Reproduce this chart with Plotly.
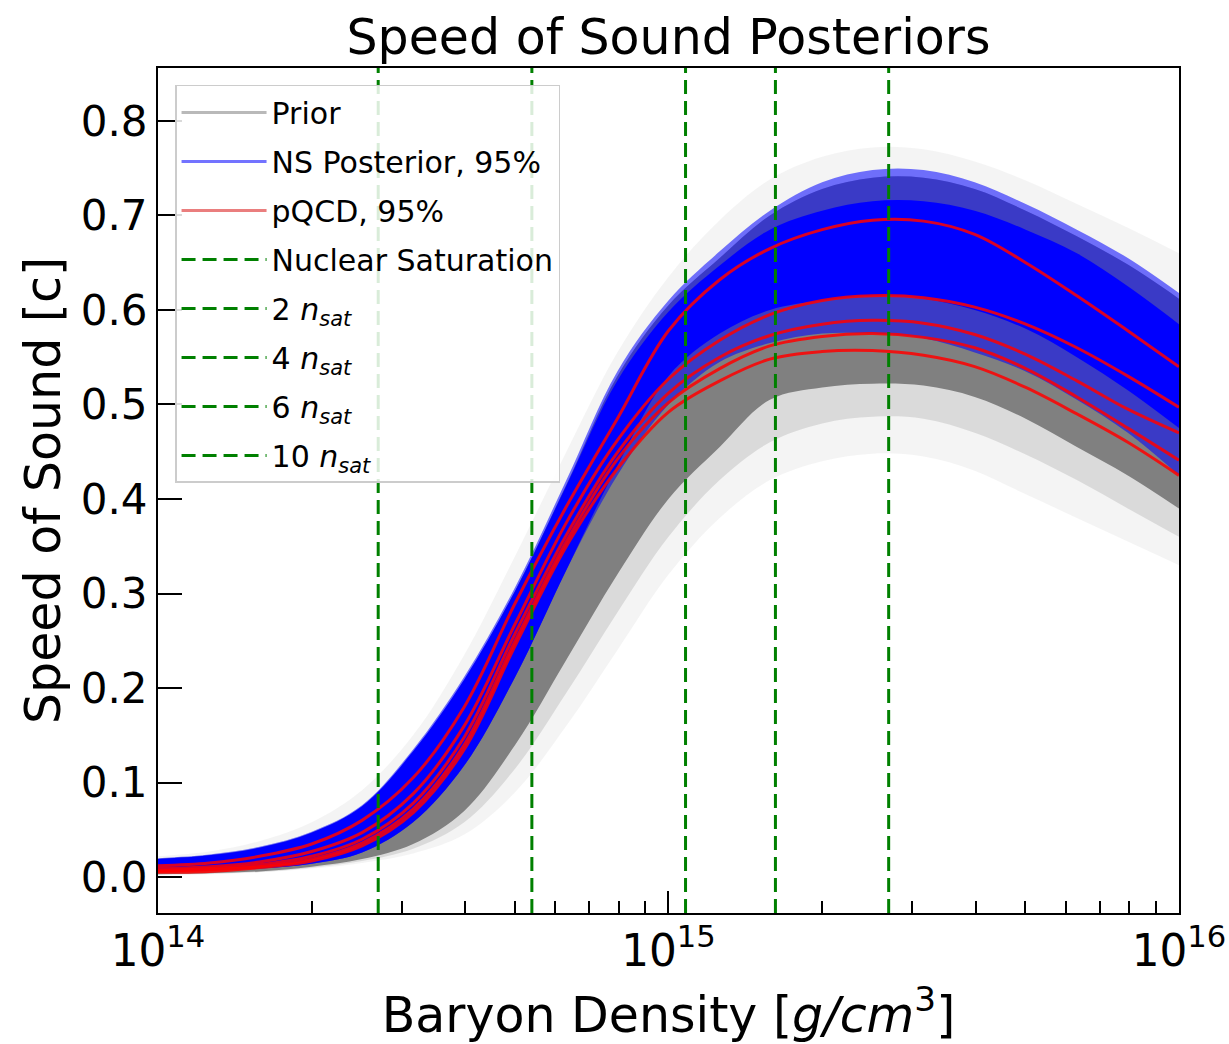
import plotly.graph_objects as go

# Baryon density sample points [g/cm^3]
density = [1.00e14, 1.26e14, 1.58e14, 2.00e14, 2.51e14, 3.16e14, 3.98e14, 5.01e14,
           6.31e14, 7.94e14, 1.00e15, 1.26e15, 1.58e15, 2.00e15, 2.51e15, 3.16e15,
           3.98e15, 5.01e15, 6.31e15, 7.94e15, 1.00e16]

# Prior (faint outer envelope of individual draws)
prior_outer_lo = [0.002, 0.003, 0.005, 0.009, 0.015, 0.025, 0.045, 0.090, 0.160, 0.240, 0.320,
                  0.380, 0.420, 0.440, 0.448, 0.445, 0.430, 0.405, 0.380, 0.355, 0.330]
prior_outer_hi = [0.022, 0.027, 0.038, 0.058, 0.092, 0.150, 0.235, 0.340, 0.450, 0.555, 0.635,
                  0.695, 0.738, 0.762, 0.772, 0.770, 0.757, 0.737, 0.712, 0.687, 0.660]
# Prior (medium density region)
prior_mid_lo = [0.003, 0.0035, 0.0055, 0.010, 0.017, 0.030, 0.058, 0.115, 0.195, 0.280, 0.360,
                0.420, 0.460, 0.480, 0.487, 0.485, 0.470, 0.447, 0.420, 0.390, 0.360]
# Prior (dense core)
prior_core_lo = [0.003, 0.004, 0.006, 0.011, 0.019, 0.035, 0.070, 0.140, 0.230, 0.320, 0.400,
                 0.455, 0.505, 0.518, 0.522, 0.520, 0.508, 0.485, 0.455, 0.425, 0.390]
prior_core_hi = [0.019, 0.023, 0.031, 0.047, 0.074, 0.130, 0.208, 0.303, 0.415, 0.530, 0.605,
                 0.655, 0.700, 0.728, 0.740, 0.740, 0.728, 0.705, 0.678, 0.648, 0.612]

# NS posterior 95% band
ns_lo = [0.006, 0.007, 0.009, 0.014, 0.026, 0.058, 0.118, 0.212, 0.325, 0.425, 0.500,
         0.545, 0.565, 0.575, 0.575, 0.570, 0.555, 0.535, 0.505, 0.470, 0.425]
ns_hi = [0.020, 0.024, 0.032, 0.048, 0.076, 0.135, 0.212, 0.307, 0.420, 0.535, 0.610,
         0.662, 0.705, 0.735, 0.748, 0.748, 0.735, 0.712, 0.685, 0.655, 0.618]
ns_core_lo = [0.006, 0.007, 0.009, 0.014, 0.026, 0.058, 0.118, 0.212, 0.325, 0.435, 0.530,
              0.575, 0.600, 0.610, 0.615, 0.612, 0.600, 0.580, 0.550, 0.515, 0.475]
ns_core_hi = [0.019, 0.023, 0.031, 0.047, 0.075, 0.133, 0.209, 0.303, 0.414, 0.525, 0.598,
              0.647, 0.685, 0.705, 0.715, 0.715, 0.705, 0.685, 0.660, 0.625, 0.585]

# pQCD-constrained 95% draws
pqcd_1 = [0.012, 0.015, 0.022, 0.035, 0.060, 0.105, 0.180, 0.290, 0.392, 0.485, 0.578,
          0.632, 0.665, 0.685, 0.695, 0.694, 0.680, 0.650, 0.615, 0.578, 0.540]
pqcd_2 = [0.009, 0.011, 0.016, 0.027, 0.047, 0.088, 0.160, 0.268, 0.375, 0.462, 0.527,
          0.568, 0.595, 0.610, 0.615, 0.613, 0.603, 0.585, 0.560, 0.530, 0.497]
pqcd_3 = [0.007, 0.009, 0.013, 0.022, 0.040, 0.078, 0.148, 0.258, 0.362, 0.449, 0.512,
          0.550, 0.573, 0.585, 0.589, 0.586, 0.574, 0.553, 0.525, 0.495, 0.470]
pqcd_4 = [0.006, 0.008, 0.011, 0.019, 0.036, 0.072, 0.140, 0.250, 0.355, 0.442, 0.502,
          0.538, 0.562, 0.572, 0.575, 0.571, 0.560, 0.538, 0.508, 0.475, 0.441]
pqcd_5 = [0.005, 0.006, 0.010, 0.017, 0.033, 0.068, 0.135, 0.245, 0.350, 0.432, 0.492,
          0.525, 0.548, 0.556, 0.557, 0.552, 0.540, 0.518, 0.490, 0.460, 0.425]

# Saturation density markers
n_sat = 2.7e14
nsat_multiples = [1, 2, 4, 6, 10]
nsat_labels = ["Nuclear Saturation", "2 <i>n<sub>sat</sub></i>", "4 <i>n<sub>sat</sub></i>",
               "6 <i>n<sub>sat</sub></i>", "10 <i>n<sub>sat</sub></i>"]

Y_RANGE = [-0.038, 0.856]

fig = go.Figure()


def band(lo, hi, color):
    fig.add_trace(go.Scatter(x=density, y=lo, mode="lines",
                             line=dict(width=0, shape="spline"),
                             showlegend=False, hoverinfo="skip"))
    fig.add_trace(go.Scatter(x=density, y=hi, mode="lines",
                             line=dict(width=0, shape="spline"),
                             fill="tonexty", fillcolor=color,
                             showlegend=False, hoverinfo="skip"))


band(prior_outer_lo, prior_outer_hi, "rgba(150,150,150,0.10)")
band(prior_mid_lo, prior_core_hi, "rgba(128,128,128,0.22)")
band(prior_core_lo, prior_core_hi, "rgb(128,128,128)")
band(ns_lo, ns_hi, "rgba(0,0,255,0.55)")
band(ns_core_lo, ns_core_hi, "rgb(0,0,255)")

for ys in [pqcd_1, pqcd_2, pqcd_3, pqcd_4, pqcd_5]:
    fig.add_trace(go.Scatter(x=density, y=ys, mode="lines",
                             line=dict(color="rgba(255,0,0,0.85)", width=3, shape="spline"),
                             showlegend=False, hoverinfo="skip"))

# Legend proxies
fig.add_trace(go.Scatter(x=[None], y=[None], mode="lines", name="Prior", legendgroup="a",
                         line=dict(color="rgba(128,128,128,0.55)", width=3)))
fig.add_trace(go.Scatter(x=[None], y=[None], mode="lines", name="NS Posterior, 95%", legendgroup="b",
                         line=dict(color="rgba(0,0,255,0.55)", width=3)))
fig.add_trace(go.Scatter(x=[None], y=[None], mode="lines", name="pQCD, 95%", legendgroup="c",
                         line=dict(color="rgba(220,40,40,0.6)", width=3)))

for k, lab in zip(nsat_multiples, nsat_labels):
    fig.add_trace(go.Scatter(x=[k * n_sat, k * n_sat], y=Y_RANGE, mode="lines", name=lab,
                             legendgroup="g" + str(k),
                             line=dict(color="green", width=3, dash="14px,7px"),
                             hoverinfo="skip"))

fig.update_layout(
    width=1229, height=1044,
    margin=dict(l=158, r=50, t=68, b=131),
    paper_bgcolor="white", plot_bgcolor="white",
    font=dict(family="DejaVu Sans", color="black"),
    title=dict(text="Speed of Sound Posteriors", x=0.5, xref="paper", y=0.965, yanchor="middle",
               font=dict(size=49, family="DejaVu Sans")),
    legend=dict(x=0.0167, y=0.98, xanchor="left", yanchor="top",
                bgcolor="rgba(255,255,255,0.85)", bordercolor="#cccccc", borderwidth=1.5,
                font=dict(size=30, family="DejaVu Sans"), itemwidth=85,
                traceorder="grouped", tracegroupgap=7),
    xaxis=dict(type="log", range=[14, 16.0001], dtick=1, exponentformat="power",
               showgrid=False, zeroline=False, automargin=False,
               showline=True, linecolor="black", linewidth=2, mirror=True,
               ticks="inside", ticklen=22, tickwidth=1.5, tickcolor="black",
               tickfont=dict(size=35),
               minor=dict(ticks="inside", ticklen=12, tickwidth=1.5, tickcolor="black",
                          dtick="D1", showgrid=False),
               title=dict(text="Baryon Density [<i>g/cm</i><sup>3</sup>]", font=dict(size=49),
                          standoff=25)),
    yaxis=dict(range=Y_RANGE, dtick=0.1, tick0=0, tickformat=".1f",
               showgrid=False, zeroline=False, automargin=False,
               showline=True, linecolor="black", linewidth=2, mirror=True,
               ticks="inside", ticklen=24, tickwidth=1.5, tickcolor="black",
               tickfont=dict(size=42),
               title=dict(text="Speed of Sound [c]", font=dict(size=49), standoff=5)),
)

fig.write_html("out.html")
